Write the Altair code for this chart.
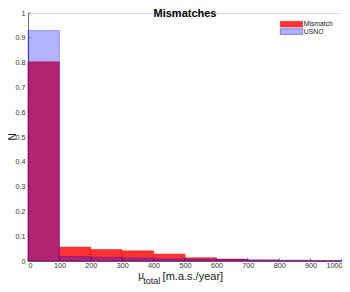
import altair as alt
import pandas as pd

# ---- data ----
bin_edges = [0, 100, 200, 300, 400, 500, 600, 700, 800, 900, 1000]
series_names = ["Mismatch", "USNO"]
mismatch_vals = [0.803, 0.056, 0.046, 0.041, 0.028, 0.013, 0.008, 0.003, 0.001, 0.0005]
usno_vals = [0.929, 0.018, 0.015, 0.012, 0.009, 0.007, 0.006, 0.005, 0.004, 0.002]
x_ticks = [0, 100, 200, 300, 400, 500, 600, 700, 800, 900, 1000]
y_ticks = [0, 0.1, 0.2, 0.3, 0.4, 0.5, 0.6, 0.7, 0.8, 0.9, 1.0]
title_text = "Mismatches"
y_title = "N"
x_title_sym = "μ"
x_title_sub = "total"
x_title_rest = "[m.a.s./year]"

rows = []
for name, vals in zip(series_names, [mismatch_vals, usno_vals]):
    for i, v in enumerate(vals):
        rows.append({"series": name, "start": bin_edges[i], "end": bin_edges[i + 1], "value": v})
df = pd.DataFrame(rows)

W, H = 314, 248
FONT = "Liberation Sans"
AX = "#444444"

xs = alt.Scale(domain=[0, 1000], nice=False, zero=False, padding=0)
ys = alt.Scale(domain=[0, 1], nice=False, padding=0)
xaxis = alt.Axis(values=x_ticks, format="d", title=None, ticks=False, grid=False,
                 labelFontSize=7.2, labelPadding=0.5, labelColor="#333333",
                 domainColor=AX, domainWidth=0.7, labelFont=FONT)
yaxis = alt.Axis(values=y_ticks, format=".1~f", title=None, ticks=False, grid=False,
                 labelFontSize=7.2, labelPadding=3, labelColor="#333333",
                 domainColor=AX, domainWidth=0.7, labelFont=FONT)

red = alt.Chart(df).transform_filter(alt.datum.series == "Mismatch").mark_bar(
    fill="#ff0000", fillOpacity=0.8, stroke="#ff0000", strokeOpacity=0.8, strokeWidth=0.6
).encode(
    x=alt.X("start:Q", scale=xs, axis=xaxis), x2="end:Q",
    y=alt.Y("value:Q", scale=ys, axis=yaxis), y2=alt.datum(0)
)
blue = alt.Chart(df).transform_filter(alt.datum.series == "USNO").mark_bar(
    fill="#0000ff", fillOpacity=0.3, stroke="#0000ff", strokeOpacity=0.5, strokeWidth=0.6
).encode(
    x=alt.X("start:Q", scale=xs, axis=xaxis), x2="end:Q",
    y=alt.Y("value:Q", scale=ys, axis=yaxis), y2=alt.datum(0)
)

xt = alt.Chart(pd.DataFrame({"t": x_ticks})).mark_rule(color=AX, strokeWidth=0.6).encode(
    x=alt.X("t:Q", scale=xs, axis=xaxis), y=alt.value(H), y2=alt.value(H - 3)
)
yt = alt.Chart(pd.DataFrame({"t": y_ticks})).mark_rule(color=AX, strokeWidth=0.6).encode(
    y=alt.Y("t:Q", scale=ys, axis=yaxis), x=alt.value(0), x2=alt.value(3)
)

leg_df = pd.DataFrame({"series": series_names})
leg_red = alt.Chart(leg_df).transform_filter(alt.datum.series == "Mismatch").mark_rect(
    fill="#ff0000", fillOpacity=0.8, stroke="#ff0000", strokeOpacity=0.8, strokeWidth=0.6
).encode(x=alt.value(252.3), x2=alt.value(274.6), y=alt.value(8.4), y2=alt.value(14.0))
leg_blue = alt.Chart(leg_df).transform_filter(alt.datum.series == "USNO").mark_rect(
    fill="#0000ff", fillOpacity=0.3, stroke="#0000ff", strokeOpacity=0.6, strokeWidth=0.7
).encode(x=alt.value(252.3), x2=alt.value(274.6), y=alt.value(15.7), y2=alt.value(21.4))
leg_txt_red = alt.Chart(leg_df).transform_filter(alt.datum.series == "Mismatch").mark_text(
    align="left", baseline="middle", fontSize=6.8, font=FONT, color="#222222"
).encode(text="series:N", x=alt.value(275.8), y=alt.value(11.3))
leg_txt_blue = alt.Chart(leg_df).transform_filter(alt.datum.series == "USNO").mark_text(
    align="left", baseline="middle", fontSize=6.8, font=FONT, color="#222222"
).encode(text="series:N", x=alt.value(275.8), y=alt.value(18.6))

ttl = alt.Chart(pd.DataFrame({"t": [title_text]})).mark_text(
    fontWeight="bold", fontSize=11, font=FONT, align="center", baseline="top", color="#000000"
).encode(text="t:N", x=alt.value(157), y=alt.value(-5))

ytl = alt.Chart(pd.DataFrame({"t": [y_title]})).mark_text(
    fontSize=10, font=FONT, align="center", baseline="middle", angle=270, color="#222222"
).encode(text="t:N", x=alt.value(-15.5), y=alt.value(124))

xt_sym = alt.Chart(pd.DataFrame({"t": [x_title_sym]})).mark_text(
    fontSize=10, font=FONT, align="left", baseline="alphabetic", color="#222222"
).encode(text="t:N", x=alt.value(110.2), y=alt.value(266.4))
xt_sub = alt.Chart(pd.DataFrame({"t": [x_title_sub]})).mark_text(
    fontSize=9, font=FONT, align="left", baseline="alphabetic", color="#222222"
).encode(text="t:N", x=alt.value(115.2), y=alt.value(270.5))
xt_rest = alt.Chart(pd.DataFrame({"t": [x_title_rest]})).mark_text(
    fontSize=11, font=FONT, align="left", baseline="alphabetic", color="#222222"
).encode(text="t:N", x=alt.value(134.6), y=alt.value(267.2))

chart = alt.layer(
    red, blue, xt, yt, leg_red, leg_blue, leg_txt_red, leg_txt_blue, ttl, ytl, xt_sym, xt_sub, xt_rest
).properties(
    width=W, height=H,
    padding={"left": 20, "top": 5, "right": 0, "bottom": 23},
    autosize=alt.AutoSizeParams(type="none"),
).configure_view(stroke=None).configure(font=FONT)

chart.save("out.html", embed_options={"renderer": "svg", "actions": False})
